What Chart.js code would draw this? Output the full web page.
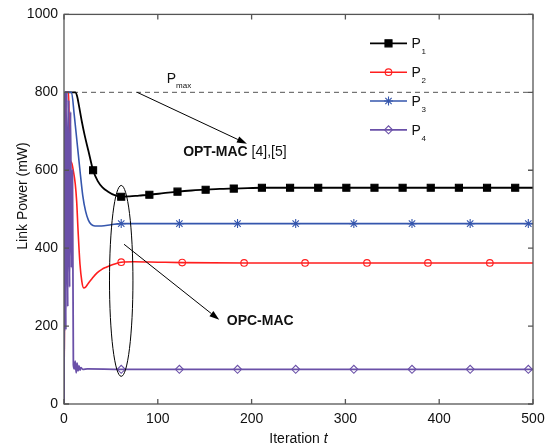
<!DOCTYPE html>
<html><head><meta charset="utf-8">
<script src="https://cdn.jsdelivr.net/npm/chart.js@4/dist/chart.umd.min.js"></script>
<style>html,body{margin:0;padding:0;background:#fff}canvas{display:block}</style>
</head><body>
<canvas id="c" width="552" height="448"></canvas>
<script>
// ---- data ----
const seriesNames = ["P", "P", "P", "P"];
const seriesSubs = ["1", "2", "3", "4"];
const xTicks = [0, 100, 200, 300, 400, 500];
const yTicks = [0, 200, 400, 600, 800, 1000];

const t1 = [0,1,12,14,16,19,22,26,31,36,41,47,54,61,70,80,91,106,121,136,151,166,181,196,211,241,271,301,331,361,391,421,451,481,500];
const p1 = [0,800,800,790,765,725,690,650,600,572,556,545,536,532,533,535,537,541,545,548,550,552,553,554,555,555,555,555,555,555,555,555,555,555,555];
const mk1 = [31,61,91,121,151,181,211,241,271,301,331,361,391,421,451,481];

const t2 = [0,2,5,6,8,10,12,13.5,15,17,19,21,23,26,30,35,40,45,50,55,61,75,100,126,192,257,323,388,454,500];
const p2 = [0,800,800,635,620,598,565,520,445,360,315,298,300,310,322,336,345,351,356,360,364,365,364,363,362,362,362,362,362,362];
const mk2 = [61,126,192,257,323,388,454];

const t3 = [0,1,8,11,14,17,20,23,26,29,33,40,50,61,123,185,247,309,371,433,495,500];
const p3 = [0,800,800,740,670,600,535,495,472,461,457,457,460,463,463,463,463,463,463,463,463,463];
const mk3 = [61,123,185,247,309,371,433,495];

const t4 = [0,1,2,3,4,5,6,7,8,9,10,11,12,13,14,15,16,17,18,20,25,61,123,185,247,309,371,433,495,500];
const p4 = [0,800,190,800,250,780,300,750,350,600,100,90,110,80,105,85,98,87,93,89,90,89,89,89,89,89,89,89,89,89];
const mk4 = [61,123,185,247,309,371,433,495];

const pmaxX = [0, 500];
const pmaxY = [800, 800];

// ---- styling ----
const colors = ["#000000", "#ff1e1e", "#3556ad", "#6a50a8"];
const styles = [
  {pointStyle: "rect", radius: 5, fill: "#000000"},
  {pointStyle: "circle", radius: 3.3, fill: "rgba(0,0,0,0)"},
  {pointStyle: "star", radius: 4.5, fill: "rgba(0,0,0,0)"},
  {pointStyle: "rectRot", radius: 4, fill: "rgba(0,0,0,0)"}
];
const FONT = "'Liberation Sans', Arial, Helvetica, sans-serif";

function pts(xs, ys) { return xs.map((x, i) => ({x: x, y: ys[i]})); }
const allT = [t1, t2, t3, t4], allP = [p1, p2, p3, p4], allMk = [mk1, mk2, mk3, mk4];
const widths = [1.8, 1.6, 1.6, 1.8];

const datasets = allT.map((t, i) => ({
  label: seriesNames[i] + seriesSubs[i],
  data: pts(t, allP[i]),
  borderColor: colors[i],
  borderWidth: widths[i],
  backgroundColor: styles[i].fill,
  pointBorderColor: colors[i],
  pointBackgroundColor: styles[i].fill,
  pointBorderWidth: 1.1,
  pointStyle: styles[i].pointStyle,
  pointRadius: ctx => (ctx.raw && allMk[i].includes(ctx.raw.x)) ? styles[i].radius : 0,
  pointHoverRadius: 0,
  cubicInterpolationMode: "monotone",
  fill: false,
  order: 3 - i
}));
datasets.push({
  label: "Pmax",
  data: pts(pmaxX, pmaxY),
  borderColor: "#555555",
  borderWidth: 1,
  borderDash: [5, 4],
  pointRadius: 0,
  fill: false,
  order: 10
});

function arrow(ctx, x1, y1, x2, y2) {
  ctx.save();
  ctx.strokeStyle = "#000"; ctx.fillStyle = "#000"; ctx.lineWidth = 1;
  const a = Math.atan2(y2 - y1, x2 - x1), L = 10, W = 3.2;
  const bx = x2 - L * Math.cos(a), by = y2 - L * Math.sin(a);
  ctx.beginPath(); ctx.moveTo(x1, y1); ctx.lineTo(bx, by); ctx.stroke();
  ctx.beginPath();
  ctx.moveTo(x2, y2);
  ctx.lineTo(bx + W * Math.sin(a), by - W * Math.cos(a));
  ctx.lineTo(bx - W * Math.sin(a), by + W * Math.cos(a));
  ctx.closePath(); ctx.fill();
  ctx.restore();
}

const deco = {
  id: "deco",
  afterDraw(chart) {
    const ctx = chart.ctx, ca = chart.chartArea;
    const xs = chart.scales.x, ys = chart.scales.y;
    const X = v => xs.getPixelForValue(v), Y = v => ys.getPixelForValue(v);
    ctx.save();
    // axes box + inward ticks
    ctx.strokeStyle = "#555"; ctx.lineWidth = 1.3;
    ctx.strokeRect(ca.left, ca.top, ca.right - ca.left, ca.bottom - ca.top);
    ctx.beginPath();
    xTicks.forEach(v => { const px = X(v);
      ctx.moveTo(px, ca.bottom); ctx.lineTo(px, ca.bottom - 5);
      ctx.moveTo(px, ca.top); ctx.lineTo(px, ca.top + 5); });
    yTicks.forEach(v => { const py = Y(v);
      ctx.moveTo(ca.left, py); ctx.lineTo(ca.left + 5, py);
      ctx.moveTo(ca.right, py); ctx.lineTo(ca.right - 5, py); });
    ctx.stroke();

    // axis titles
    ctx.fillStyle = "#111";
    ctx.textBaseline = "alphabetic";
    const s1 = "Iteration ";
    ctx.font = "14px " + FONT; const w1 = ctx.measureText(s1).width;
    ctx.font = "italic 14px " + FONT; const w2 = ctx.measureText("t").width;
    const cx = (ca.left + ca.right) / 2, x0 = cx - (w1 + w2) / 2;
    ctx.font = "14px " + FONT; ctx.textAlign = "left";
    ctx.fillText(s1, x0, 443);
    ctx.font = "italic 14px " + FONT; ctx.fillText("t", x0 + w1, 443);
    ctx.save();
    ctx.translate(27, 196); ctx.rotate(-Math.PI / 2);
    ctx.font = "14px " + FONT; ctx.textAlign = "center";
    ctx.fillText("Link Power (mW)", 0, 0);
    ctx.restore();

    // legend
    const legY = [43.3, 72.2, 101, 129.8];
    for (let i = 0; i < 4; i++) {
      const y = legY[i];
      ctx.strokeStyle = colors[i]; ctx.lineWidth = widths[i];
      ctx.beginPath(); ctx.moveTo(370, y); ctx.lineTo(407, y); ctx.stroke();
      ctx.fillStyle = styles[i].fill; ctx.strokeStyle = colors[i]; ctx.lineWidth = 1.1;
      Chart.helpers.drawPoint(ctx, {pointStyle: styles[i].pointStyle, radius: styles[i].radius, rotation: 0, borderWidth: 1.1}, 388.5, y);
      ctx.fillStyle = "#111"; ctx.textAlign = "left";
      ctx.font = "14px " + FONT; ctx.fillText(seriesNames[i], 411.5, y + 5);
      ctx.font = "8px " + FONT; ctx.fillText(seriesSubs[i], 421.5, y + 11);
    }

    // Pmax label and arrow
    ctx.fillStyle = "#111";
    ctx.font = "14px " + FONT; ctx.fillText("P", X(109.5), Y(824));
    ctx.font = "8px " + FONT; ctx.fillText("max", X(119.5), Y(810));
    arrow(ctx, X(78), Y(800), X(195), Y(668));
    ctx.font = "bold 14px " + FONT;
    const tOpt = "OPT-MAC";
    ctx.fillText(tOpt, X(127), Y(637));
    const wo = ctx.measureText(tOpt + " ").width;
    ctx.font = "14px " + FONT; ctx.fillText("[4],[5]", X(127) + wo, Y(637));

    // OPC ellipse and arrow
    ctx.strokeStyle = "#000"; ctx.lineWidth = 1;
    ctx.beginPath();
    ctx.ellipse(X(61), Y(316), X(61 + 12.5) - X(61), Y(316) - Y(316 + 245), 0, 0, 2 * Math.PI);
    ctx.stroke();
    arrow(ctx, X(64), Y(410), X(165.5), Y(216));
    ctx.font = "bold 14px " + FONT; ctx.fillStyle = "#111";
    ctx.fillText("OPC-MAC", X(173.5), Y(204));
    ctx.restore();
  }
};

new Chart(document.getElementById("c"), {
  type: "line",
  data: {datasets: datasets},
  options: {
    responsive: false, animation: false, devicePixelRatio: 1,
    layout: {padding: {top: 12, right: 19, left: 0, bottom: 0}},
    plugins: {legend: {display: false}, tooltip: {enabled: false}},
    events: [],
    scales: {
      x: {type: "linear", min: 0, max: 500,
          afterFit: s => { s.height = 44; },
          afterBuildTicks: s => { s.ticks = xTicks.map(v => ({value: v})); },
          grid: {display: false, drawTicks: false}, border: {display: false},
          ticks: {padding: 7, color: "#111", font: {family: FONT, size: 14}, maxRotation: 0,
                  callback: v => String(v)}},
      y: {type: "linear", min: 0, max: 1000,
          afterFit: s => { s.width = 64; },
          afterBuildTicks: s => { s.ticks = yTicks.map(v => ({value: v})); },
          grid: {display: false, drawTicks: false}, border: {display: false},
          ticks: {padding: 6, color: "#111", font: {family: FONT, size: 14},
                  callback: v => String(v)}}
    }
  },
  plugins: [deco]
});
</script>
</body></html>
